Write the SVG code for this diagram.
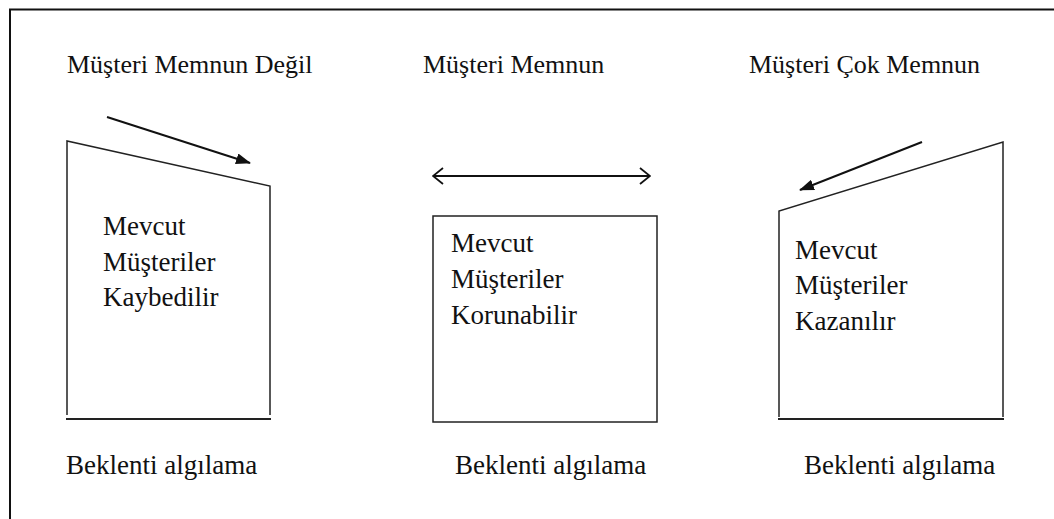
<svg xmlns="http://www.w3.org/2000/svg" width="1054" height="519" viewBox="0 0 1054 519">
<defs>
<style>
.sh{fill:none;stroke:#222;stroke-width:1.5;}
.base{fill:none;stroke:#222;stroke-width:2.2;}
.ln{fill:none;stroke:#111;stroke-width:2;}
</style>
<marker id="fill" viewBox="0 0 15 11" refX="14" refY="5.5" markerWidth="15" markerHeight="11" markerUnits="userSpaceOnUse" orient="auto">
<path d="M0,0 L15,5.5 L0,11 Z" fill="#111"/>
</marker>
<marker id="open" viewBox="0 0 12 18" refX="11" refY="9" markerWidth="12" markerHeight="18" markerUnits="userSpaceOnUse" orient="auto-start-reverse">
<path d="M1,1 L11,9 L1,17" fill="none" stroke="#111" stroke-width="1.8"/>
</marker>
</defs>
<rect width="1054" height="519" fill="#fff"/>
<g id="frame">
<path d="M10,519 L10,9.5 L1054,9.5" fill="none" stroke="#111" stroke-width="2"/>
</g>
<g id="labels" fill="#111">
<text font-family="'Liberation Serif', serif" font-size="26" x="67" y="73">Müşteri Memnun Değil</text>
<text font-family="'Liberation Serif', serif" font-size="26" x="423" y="73">Müşteri Memnun</text>
<text font-family="'Liberation Serif', serif" font-size="26" x="749" y="73">Müşteri Çok Memnun</text>
<text font-family="'Liberation Serif', serif" font-size="27" x="66" y="474">Beklenti algılama</text>
<text font-family="'Liberation Serif', serif" font-size="27" x="455" y="474">Beklenti algılama</text>
<text font-family="'Liberation Serif', serif" font-size="27" x="804" y="474">Beklenti algılama</text>
</g>
<g id="node-kaybedilir" fill="#111">
<path class="sh" d="M67,415 L67,141 L270,186 L270,415"/>
<line class="base" x1="66" y1="419" x2="271" y2="419"/>
<text font-family="'Liberation Serif', serif" font-size="27"><tspan x="103" y="235">Mevcut</tspan><tspan x="103" y="271">Müşteriler</tspan><tspan x="103" y="306">Kaybedilir</tspan></text>
</g>
<g id="node-korunabilir" fill="#111">
<rect class="sh" x="433" y="216" width="224" height="206"/>
<text font-family="'Liberation Serif', serif" font-size="27"><tspan x="451" y="252">Mevcut</tspan><tspan x="451" y="288">Müşteriler</tspan><tspan x="451" y="324">Korunabilir</tspan></text>
</g>
<g id="node-kazanilir" fill="#111">
<path class="sh" d="M779,417 L779,211 L1003,142 L1003,417"/>
<line class="base" x1="778" y1="419" x2="1004" y2="419"/>
<text font-family="'Liberation Serif', serif" font-size="27"><tspan x="795" y="259">Mevcut</tspan><tspan x="795" y="294">Müşteriler</tspan><tspan x="795" y="330">Kazanılır</tspan></text>
</g>
<g id="connectors">
<line class="ln" x1="107" y1="117" x2="250" y2="163" marker-end="url(#fill)"/>
<line class="ln" x1="433" y1="176" x2="650" y2="176" marker-start="url(#open)" marker-end="url(#open)"/>
<line class="ln" x1="922" y1="142" x2="800" y2="190" marker-end="url(#fill)"/>
</g>
</svg>
